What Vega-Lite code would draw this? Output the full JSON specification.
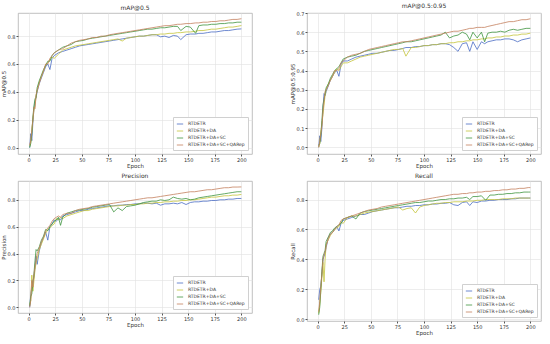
{
  "$schema": "https://vega.github.io/schema/vega-lite/v6.json",
  "padding": {"left": 0, "top": 2, "right": 2, "bottom": 0},
  "background": "white",
  "config": {
    "font": "DejaVu Sans",
    "view": {"stroke": "#b0b0b0", "strokeWidth": 0.8},
    "axis": {"labelFontSize": 5, "titleFontSize": 5.5, "titleFontWeight": "normal", "gridColor": "#e0e0e0", "gridWidth": 0.6, "domain": false, "tickColor": "#555", "tickSize": 2, "labelPadding": 1, "titlePadding": 1, "labelColor": "#333", "titleColor": "#333"},
    "title": {"fontSize": 6, "fontWeight": "normal", "offset": 2, "color": "#333"},
    "legend": {"orient": "bottom-right", "offset": 4, "title": null, "labelFontSize": 4.5, "symbolType": "stroke", "symbolSize": 40, "symbolStrokeWidth": 1, "strokeColor": "#d0d0d0", "fillColor": "white", "padding": 3, "rowPadding": 1, "labelColor": "#333"},
    "line": {"strokeWidth": 0.8}
  },
  "datasets": {
    "m50": [
      {"e":1,"a":0.00,"b":0.01,"c":0.00,"d":0.02},
      {"e":2,"a":0.10,"b":0.04,"c":0.03,"d":0.05},
      {"e":3,"a":0.05,"b":0.12,"c":0.10,"d":0.13},
      {"e":4,"a":0.18,"b":0.20,"c":0.22,"d":0.20},
      {"e":5,"a":0.28,"b":0.27,"c":0.30,"d":0.29},
      {"e":6,"a":0.33,"b":0.30,"c":0.35,"d":0.28},
      {"e":7,"a":0.36,"b":0.37,"c":0.36,"d":0.38},
      {"e":8,"a":0.40,"b":0.41,"c":0.43,"d":0.41},
      {"e":10,"a":0.46,"b":0.47,"c":0.48,"d":0.46},
      {"e":12,"a":0.50,"b":0.51,"c":0.52,"d":0.51},
      {"e":14,"a":0.54,"b":0.55,"c":0.56,"d":0.55},
      {"e":16,"a":0.58,"b":0.59,"c":0.59,"d":0.60},
      {"e":18,"a":0.60,"b":0.61,"c":0.62,"d":0.60},
      {"e":20,"a":0.56,"b":0.63,"c":0.62,"d":0.64},
      {"e":22,"a":0.64,"b":0.65,"c":0.66,"d":0.66},
      {"e":24,"a":0.66,"b":0.64,"c":0.68,"d":0.68},
      {"e":28,"a":0.68,"b":0.67,"c":0.70,"d":0.70},
      {"e":32,"a":0.69,"b":0.70,"c":0.72,"d":0.71},
      {"e":36,"a":0.70,"b":0.71,"c":0.73,"d":0.73},
      {"e":40,"a":0.71,"b":0.72,"c":0.74,"d":0.75},
      {"e":44,"a":0.72,"b":0.73,"c":0.76,"d":0.76},
      {"e":48,"a":0.73,"b":0.735,"c":0.765,"d":0.77},
      {"e":52,"a":0.735,"b":0.74,"c":0.77,"d":0.775},
      {"e":56,"a":0.74,"b":0.745,"c":0.78,"d":0.78},
      {"e":60,"a":0.745,"b":0.75,"c":0.785,"d":0.79},
      {"e":64,"a":0.75,"b":0.755,"c":0.79,"d":0.79},
      {"e":68,"a":0.755,"b":0.76,"c":0.795,"d":0.80},
      {"e":72,"a":0.76,"b":0.765,"c":0.80,"d":0.80},
      {"e":76,"a":0.765,"b":0.77,"c":0.805,"d":0.81},
      {"e":80,"a":0.77,"b":0.775,"c":0.81,"d":0.815},
      {"e":84,"a":0.775,"b":0.78,"c":0.815,"d":0.82},
      {"e":88,"a":0.78,"b":0.765,"c":0.82,"d":0.825},
      {"e":92,"a":0.785,"b":0.785,"c":0.825,"d":0.83},
      {"e":96,"a":0.79,"b":0.79,"c":0.83,"d":0.835},
      {"e":100,"a":0.795,"b":0.795,"c":0.835,"d":0.84},
      {"e":104,"a":0.80,"b":0.80,"c":0.84,"d":0.845},
      {"e":108,"a":0.80,"b":0.80,"c":0.845,"d":0.85},
      {"e":112,"a":0.805,"b":0.805,"c":0.85,"d":0.855},
      {"e":116,"a":0.81,"b":0.81,"c":0.85,"d":0.86},
      {"e":120,"a":0.81,"b":0.81,"c":0.855,"d":0.865},
      {"e":124,"a":0.795,"b":0.815,"c":0.86,"d":0.87},
      {"e":128,"a":0.80,"b":0.815,"c":0.86,"d":0.875},
      {"e":132,"a":0.79,"b":0.82,"c":0.865,"d":0.875},
      {"e":136,"a":0.805,"b":0.82,"c":0.87,"d":0.88},
      {"e":140,"a":0.80,"b":0.825,"c":0.87,"d":0.885},
      {"e":143,"a":0.775,"b":0.825,"c":0.84,"d":0.885},
      {"e":148,"a":0.81,"b":0.83,"c":0.87,"d":0.89},
      {"e":152,"a":0.815,"b":0.83,"c":0.865,"d":0.89},
      {"e":157,"a":0.815,"b":0.835,"c":0.82,"d":0.895},
      {"e":160,"a":0.82,"b":0.84,"c":0.875,"d":0.895},
      {"e":164,"a":0.82,"b":0.84,"c":0.88,"d":0.90},
      {"e":168,"a":0.825,"b":0.845,"c":0.88,"d":0.90},
      {"e":172,"a":0.83,"b":0.85,"c":0.885,"d":0.905},
      {"e":176,"a":0.83,"b":0.85,"c":0.885,"d":0.905},
      {"e":180,"a":0.835,"b":0.855,"c":0.89,"d":0.91},
      {"e":184,"a":0.84,"b":0.86,"c":0.89,"d":0.91},
      {"e":188,"a":0.84,"b":0.865,"c":0.895,"d":0.915},
      {"e":192,"a":0.845,"b":0.865,"c":0.895,"d":0.92},
      {"e":196,"a":0.85,"b":0.87,"c":0.90,"d":0.92},
      {"e":200,"a":0.852,"b":0.876,"c":0.90,"d":0.925}
    ],
    "m95": [
      {"e":1,"a":0.00,"b":0.00,"c":0.01,"d":0.00},
      {"e":2,"a":0.06,"b":0.02,"c":0.02,"d":0.03},
      {"e":3,"a":0.03,"b":0.08,"c":0.06,"d":0.07},
      {"e":4,"a":0.10,"b":0.12,"c":0.14,"d":0.11},
      {"e":5,"a":0.20,"b":0.17,"c":0.22,"d":0.19},
      {"e":6,"a":0.28,"b":0.22,"c":0.25,"d":0.24},
      {"e":7,"a":0.27,"b":0.27,"c":0.28,"d":0.29},
      {"e":8,"a":0.29,"b":0.30,"c":0.31,"d":0.30},
      {"e":10,"a":0.32,"b":0.33,"c":0.33,"d":0.32},
      {"e":12,"a":0.35,"b":0.35,"c":0.36,"d":0.35},
      {"e":14,"a":0.37,"b":0.37,"c":0.38,"d":0.37},
      {"e":16,"a":0.39,"b":0.39,"c":0.40,"d":0.40},
      {"e":18,"a":0.40,"b":0.41,"c":0.41,"d":0.40},
      {"e":20,"a":0.37,"b":0.40,"c":0.42,"d":0.41},
      {"e":22,"a":0.43,"b":0.42,"c":0.44,"d":0.44},
      {"e":24,"a":0.45,"b":0.44,"c":0.46,"d":0.45},
      {"e":28,"a":0.45,"b":0.44,"c":0.47,"d":0.47},
      {"e":32,"a":0.46,"b":0.45,"c":0.475,"d":0.48},
      {"e":36,"a":0.47,"b":0.46,"c":0.48,"d":0.485},
      {"e":40,"a":0.475,"b":0.47,"c":0.49,"d":0.49},
      {"e":44,"a":0.48,"b":0.475,"c":0.50,"d":0.50},
      {"e":48,"a":0.485,"b":0.48,"c":0.505,"d":0.51},
      {"e":52,"a":0.49,"b":0.485,"c":0.51,"d":0.515},
      {"e":56,"a":0.49,"b":0.49,"c":0.515,"d":0.52},
      {"e":60,"a":0.495,"b":0.495,"c":0.52,"d":0.525},
      {"e":64,"a":0.50,"b":0.50,"c":0.525,"d":0.53},
      {"e":68,"a":0.505,"b":0.505,"c":0.53,"d":0.535},
      {"e":72,"a":0.505,"b":0.51,"c":0.535,"d":0.54},
      {"e":76,"a":0.51,"b":0.51,"c":0.54,"d":0.545},
      {"e":80,"a":0.515,"b":0.515,"c":0.545,"d":0.55},
      {"e":83,"a":0.52,"b":0.475,"c":0.55,"d":0.55},
      {"e":88,"a":0.52,"b":0.52,"c":0.55,"d":0.555},
      {"e":92,"a":0.525,"b":0.52,"c":0.555,"d":0.56},
      {"e":96,"a":0.525,"b":0.525,"c":0.56,"d":0.565},
      {"e":100,"a":0.53,"b":0.53,"c":0.565,"d":0.57},
      {"e":104,"a":0.53,"b":0.53,"c":0.57,"d":0.575},
      {"e":108,"a":0.535,"b":0.535,"c":0.575,"d":0.58},
      {"e":112,"a":0.535,"b":0.535,"c":0.58,"d":0.585},
      {"e":116,"a":0.54,"b":0.54,"c":0.585,"d":0.59},
      {"e":120,"a":0.54,"b":0.54,"c":0.60,"d":0.595},
      {"e":124,"a":0.535,"b":0.545,"c":0.57,"d":0.60},
      {"e":128,"a":0.52,"b":0.545,"c":0.58,"d":0.605},
      {"e":132,"a":0.50,"b":0.55,"c":0.585,"d":0.605},
      {"e":136,"a":0.54,"b":0.55,"c":0.60,"d":0.61},
      {"e":140,"a":0.545,"b":0.555,"c":0.59,"d":0.615},
      {"e":143,"a":0.50,"b":0.555,"c":0.56,"d":0.62},
      {"e":146,"a":0.55,"b":0.56,"c":0.60,"d":0.62},
      {"e":150,"a":0.51,"b":0.56,"c":0.57,"d":0.625},
      {"e":154,"a":0.55,"b":0.565,"c":0.60,"d":0.625},
      {"e":157,"a":0.54,"b":0.565,"c":0.55,"d":0.625},
      {"e":160,"a":0.55,"b":0.57,"c":0.595,"d":0.63},
      {"e":164,"a":0.555,"b":0.57,"c":0.60,"d":0.635},
      {"e":168,"a":0.56,"b":0.575,"c":0.60,"d":0.64},
      {"e":172,"a":0.56,"b":0.575,"c":0.605,"d":0.645},
      {"e":176,"a":0.565,"b":0.58,"c":0.60,"d":0.65},
      {"e":180,"a":0.565,"b":0.58,"c":0.61,"d":0.655},
      {"e":184,"a":0.56,"b":0.585,"c":0.615,"d":0.655},
      {"e":188,"a":0.55,"b":0.585,"c":0.61,"d":0.66},
      {"e":192,"a":0.56,"b":0.59,"c":0.615,"d":0.665},
      {"e":196,"a":0.565,"b":0.59,"c":0.62,"d":0.665},
      {"e":200,"a":0.57,"b":0.595,"c":0.62,"d":0.67}
    ],
    "pr": [
      {"e":1,"a":0.00,"b":0.02,"c":0.01,"d":0.00},
      {"e":2,"a":0.10,"b":0.05,"c":0.08,"d":0.05},
      {"e":3,"a":0.15,"b":0.24,"c":0.10,"d":0.20},
      {"e":4,"a":0.20,"b":0.12,"c":0.18,"d":0.15},
      {"e":5,"a":0.22,"b":0.20,"c":0.25,"d":0.25},
      {"e":6,"a":0.30,"b":0.28,"c":0.35,"d":0.30},
      {"e":7,"a":0.38,"b":0.33,"c":0.43,"d":0.36},
      {"e":8,"a":0.32,"b":0.36,"c":0.42,"d":0.40},
      {"e":10,"a":0.42,"b":0.43,"c":0.45,"d":0.44},
      {"e":12,"a":0.48,"b":0.47,"c":0.50,"d":0.49},
      {"e":14,"a":0.52,"b":0.51,"c":0.53,"d":0.52},
      {"e":16,"a":0.56,"b":0.55,"c":0.58,"d":0.57},
      {"e":18,"a":0.50,"b":0.58,"c":0.57,"d":0.59},
      {"e":20,"a":0.60,"b":0.59,"c":0.60,"d":0.61},
      {"e":22,"a":0.62,"b":0.61,"c":0.62,"d":0.64},
      {"e":24,"a":0.65,"b":0.62,"c":0.64,"d":0.66},
      {"e":26,"a":0.64,"b":0.66,"c":0.65,"d":0.67},
      {"e":28,"a":0.66,"b":0.65,"c":0.67,"d":0.68},
      {"e":30,"a":0.65,"b":0.67,"c":0.61,"d":0.67},
      {"e":32,"a":0.68,"b":0.66,"c":0.67,"d":0.69},
      {"e":36,"a":0.69,"b":0.68,"c":0.70,"d":0.70},
      {"e":40,"a":0.70,"b":0.69,"c":0.71,"d":0.70},
      {"e":44,"a":0.71,"b":0.70,"c":0.72,"d":0.72},
      {"e":48,"a":0.72,"b":0.71,"c":0.725,"d":0.73},
      {"e":52,"a":0.72,"b":0.72,"c":0.73,"d":0.735},
      {"e":56,"a":0.73,"b":0.72,"c":0.735,"d":0.74},
      {"e":60,"a":0.735,"b":0.73,"c":0.745,"d":0.75},
      {"e":64,"a":0.74,"b":0.735,"c":0.75,"d":0.755},
      {"e":68,"a":0.745,"b":0.74,"c":0.755,"d":0.76},
      {"e":72,"a":0.75,"b":0.745,"c":0.76,"d":0.765},
      {"e":76,"a":0.755,"b":0.75,"c":0.765,"d":0.77},
      {"e":80,"a":0.755,"b":0.755,"c":0.71,"d":0.775},
      {"e":84,"a":0.76,"b":0.755,"c":0.74,"d":0.78},
      {"e":88,"a":0.76,"b":0.76,"c":0.72,"d":0.785},
      {"e":92,"a":0.765,"b":0.76,"c":0.75,"d":0.79},
      {"e":96,"a":0.765,"b":0.765,"c":0.755,"d":0.795},
      {"e":100,"a":0.77,"b":0.765,"c":0.76,"d":0.80},
      {"e":104,"a":0.77,"b":0.77,"c":0.77,"d":0.805},
      {"e":108,"a":0.775,"b":0.77,"c":0.78,"d":0.81},
      {"e":112,"a":0.775,"b":0.775,"c":0.785,"d":0.815},
      {"e":116,"a":0.77,"b":0.775,"c":0.79,"d":0.815},
      {"e":120,"a":0.775,"b":0.78,"c":0.79,"d":0.82},
      {"e":124,"a":0.76,"b":0.78,"c":0.80,"d":0.825},
      {"e":128,"a":0.77,"b":0.785,"c":0.795,"d":0.83},
      {"e":132,"a":0.77,"b":0.785,"c":0.80,"d":0.835},
      {"e":136,"a":0.775,"b":0.79,"c":0.82,"d":0.84},
      {"e":140,"a":0.77,"b":0.79,"c":0.81,"d":0.845},
      {"e":144,"a":0.78,"b":0.795,"c":0.805,"d":0.85},
      {"e":148,"a":0.765,"b":0.795,"c":0.81,"d":0.855},
      {"e":152,"a":0.78,"b":0.80,"c":0.80,"d":0.86},
      {"e":156,"a":0.785,"b":0.80,"c":0.805,"d":0.86},
      {"e":160,"a":0.785,"b":0.805,"c":0.815,"d":0.865},
      {"e":164,"a":0.79,"b":0.81,"c":0.82,"d":0.87},
      {"e":168,"a":0.79,"b":0.815,"c":0.825,"d":0.875},
      {"e":172,"a":0.795,"b":0.82,"c":0.83,"d":0.875},
      {"e":176,"a":0.795,"b":0.82,"c":0.835,"d":0.88},
      {"e":180,"a":0.80,"b":0.825,"c":0.84,"d":0.885},
      {"e":184,"a":0.80,"b":0.83,"c":0.845,"d":0.89},
      {"e":188,"a":0.805,"b":0.83,"c":0.85,"d":0.89},
      {"e":192,"a":0.805,"b":0.835,"c":0.855,"d":0.895},
      {"e":196,"a":0.81,"b":0.835,"c":0.86,"d":0.895},
      {"e":200,"a":0.81,"b":0.84,"c":0.86,"d":0.896}
    ],
    "rc": [
      {"e":1,"a":0.13,"b":0.04,"c":0.03,"d":0.05},
      {"e":2,"a":0.20,"b":0.10,"c":0.08,"d":0.12},
      {"e":3,"a":0.22,"b":0.18,"c":0.20,"d":0.22},
      {"e":4,"a":0.30,"b":0.28,"c":0.32,"d":0.30},
      {"e":5,"a":0.40,"b":0.38,"c":0.42,"d":0.40},
      {"e":6,"a":0.42,"b":0.25,"c":0.44,"d":0.43},
      {"e":7,"a":0.44,"b":0.40,"c":0.46,"d":0.45},
      {"e":8,"a":0.48,"b":0.50,"c":0.52,"d":0.49},
      {"e":10,"a":0.54,"b":0.53,"c":0.55,"d":0.54},
      {"e":12,"a":0.57,"b":0.56,"c":0.58,"d":0.57},
      {"e":14,"a":0.58,"b":0.58,"c":0.59,"d":0.58},
      {"e":16,"a":0.60,"b":0.60,"c":0.61,"d":0.60},
      {"e":18,"a":0.62,"b":0.61,"c":0.62,"d":0.62},
      {"e":20,"a":0.59,"b":0.62,"c":0.63,"d":0.63},
      {"e":22,"a":0.64,"b":0.65,"c":0.64,"d":0.66},
      {"e":24,"a":0.66,"b":0.64,"c":0.67,"d":0.67},
      {"e":28,"a":0.67,"b":0.68,"c":0.68,"d":0.68},
      {"e":32,"a":0.68,"b":0.69,"c":0.69,"d":0.69},
      {"e":36,"a":0.69,"b":0.69,"c":0.67,"d":0.70},
      {"e":40,"a":0.70,"b":0.70,"c":0.71,"d":0.71},
      {"e":44,"a":0.70,"b":0.71,"c":0.72,"d":0.72},
      {"e":48,"a":0.71,"b":0.715,"c":0.725,"d":0.73},
      {"e":52,"a":0.72,"b":0.72,"c":0.73,"d":0.735},
      {"e":56,"a":0.725,"b":0.725,"c":0.735,"d":0.74},
      {"e":60,"a":0.73,"b":0.73,"c":0.74,"d":0.75},
      {"e":64,"a":0.735,"b":0.735,"c":0.745,"d":0.755},
      {"e":68,"a":0.74,"b":0.74,"c":0.75,"d":0.76},
      {"e":72,"a":0.745,"b":0.745,"c":0.755,"d":0.765},
      {"e":76,"a":0.745,"b":0.75,"c":0.76,"d":0.77},
      {"e":80,"a":0.75,"b":0.73,"c":0.765,"d":0.775},
      {"e":84,"a":0.755,"b":0.74,"c":0.77,"d":0.78},
      {"e":88,"a":0.755,"b":0.745,"c":0.775,"d":0.785},
      {"e":92,"a":0.76,"b":0.71,"c":0.78,"d":0.79},
      {"e":96,"a":0.76,"b":0.75,"c":0.78,"d":0.795},
      {"e":100,"a":0.765,"b":0.76,"c":0.785,"d":0.80},
      {"e":104,"a":0.765,"b":0.765,"c":0.79,"d":0.805},
      {"e":108,"a":0.77,"b":0.77,"c":0.79,"d":0.81},
      {"e":112,"a":0.77,"b":0.775,"c":0.795,"d":0.815},
      {"e":116,"a":0.775,"b":0.775,"c":0.80,"d":0.82},
      {"e":120,"a":0.775,"b":0.78,"c":0.80,"d":0.825},
      {"e":124,"a":0.78,"b":0.78,"c":0.805,"d":0.83},
      {"e":128,"a":0.765,"b":0.785,"c":0.805,"d":0.835},
      {"e":132,"a":0.76,"b":0.785,"c":0.81,"d":0.835},
      {"e":136,"a":0.78,"b":0.785,"c":0.81,"d":0.84},
      {"e":140,"a":0.785,"b":0.79,"c":0.815,"d":0.84},
      {"e":143,"a":0.76,"b":0.79,"c":0.80,"d":0.845},
      {"e":146,"a":0.785,"b":0.79,"c":0.82,"d":0.845},
      {"e":150,"a":0.78,"b":0.795,"c":0.82,"d":0.85},
      {"e":154,"a":0.79,"b":0.795,"c":0.825,"d":0.85},
      {"e":158,"a":0.79,"b":0.80,"c":0.795,"d":0.855},
      {"e":162,"a":0.795,"b":0.80,"c":0.83,"d":0.855},
      {"e":166,"a":0.795,"b":0.80,"c":0.83,"d":0.86},
      {"e":170,"a":0.80,"b":0.80,"c":0.835,"d":0.86},
      {"e":174,"a":0.80,"b":0.805,"c":0.835,"d":0.865},
      {"e":178,"a":0.80,"b":0.805,"c":0.84,"d":0.865},
      {"e":182,"a":0.805,"b":0.805,"c":0.84,"d":0.87},
      {"e":186,"a":0.805,"b":0.81,"c":0.845,"d":0.87},
      {"e":190,"a":0.81,"b":0.81,"c":0.845,"d":0.875},
      {"e":194,"a":0.81,"b":0.81,"c":0.85,"d":0.875},
      {"e":198,"a":0.81,"b":0.81,"c":0.85,"d":0.88},
      {"e":200,"a":0.81,"b":0.81,"c":0.85,"d":0.88}
    ]
  },
  "columns": 2,
  "spacing": {"row": 3, "column": 36},
  "resolve": {"scale": {"color": "independent", "y": "independent", "x": "independent"}, "legend": {"color": "independent"}},
  "concat": [
    {
      "title": "mAP@0.5",
      "width": 234, "height": 141,
      "data": {"name": "m50"},
      "transform": [{"fold": ["a", "b", "c", "d"], "as": ["s", "v"]}],
      "mark": {"type": "line"},
      "encoding": {
        "x": {"field": "e", "type": "quantitative", "scale": {"domain": [-10, 210], "nice": false}, "axis": {"title": "Epoch", "values": [0,25,50,75,100,125,150,175,200]}},
        "y": {"field": "v", "type": "quantitative", "scale": {"domain": [-0.046, 0.966], "nice": false, "zero": false}, "axis": {"title": "mAP@0.5", "values": [0,0.2,0.4,0.6,0.8], "format": ".1f"}},
        "color": {"field": "s", "type": "nominal", "scale": {"domain": ["a","b","c","d"], "range": ["#4a6cc4", "#c4c43a", "#3f943f", "#c4805e"]}, "legend": {"labelExpr": "datum.label == 'a' ? 'RTDETR' : datum.label == 'b' ? 'RTDETR+DA' : datum.label == 'c' ? 'RTDETR+DA+SC' : 'RTDETR+DA+SC+QARep'"}}
      }
    },
    {
      "title": "mAP@0.5:0.95",
      "width": 234, "height": 141,
      "data": {"name": "m95"},
      "transform": [{"fold": ["a", "b", "c", "d"], "as": ["s", "v"]}],
      "mark": {"type": "line"},
      "encoding": {
        "x": {"field": "e", "type": "quantitative", "scale": {"domain": [-10, 210], "nice": false}, "axis": {"title": "Epoch", "values": [0,25,50,75,100,125,150,175,200]}},
        "y": {"field": "v", "type": "quantitative", "scale": {"domain": [-0.035, 0.70], "nice": false, "zero": false}, "axis": {"title": "mAP@0.5:0.95", "values": [0,0.1,0.2,0.3,0.4,0.5,0.6,0.7], "format": ".1f"}},
        "color": {"field": "s", "type": "nominal", "scale": {"domain": ["a","b","c","d"], "range": ["#4a6cc4", "#c4c43a", "#3f943f", "#c4805e"]}, "legend": {"labelExpr": "datum.label == 'a' ? 'RTDETR' : datum.label == 'b' ? 'RTDETR+DA' : datum.label == 'c' ? 'RTDETR+DA+SC' : 'RTDETR+DA+SC+QARep'"}}
      }
    },
    {
      "title": "Precision",
      "width": 234, "height": 132,
      "data": {"name": "pr"},
      "transform": [{"fold": ["a", "b", "c", "d"], "as": ["s", "v"]}],
      "mark": {"type": "line"},
      "encoding": {
        "x": {"field": "e", "type": "quantitative", "scale": {"domain": [-10, 210], "nice": false}, "axis": {"title": "Epoch", "values": [0,25,50,75,100,125,150,175,200]}},
        "y": {"field": "v", "type": "quantitative", "scale": {"domain": [-0.042, 0.94], "nice": false, "zero": false}, "axis": {"title": "Precision", "values": [0,0.2,0.4,0.6,0.8], "format": ".1f"}},
        "color": {"field": "s", "type": "nominal", "scale": {"domain": ["a","b","c","d"], "range": ["#4a6cc4", "#c4c43a", "#3f943f", "#c4805e"]}, "legend": {"labelExpr": "datum.label == 'a' ? 'RTDETR' : datum.label == 'b' ? 'RTDETR+DA' : datum.label == 'c' ? 'RTDETR+DA+SC' : 'RTDETR+DA+SC+QARep'"}}
      }
    },
    {
      "title": "Recall",
      "width": 234, "height": 140,
      "data": {"name": "rc"},
      "transform": [{"fold": ["a", "b", "c", "d"], "as": ["s", "v"]}],
      "mark": {"type": "line"},
      "encoding": {
        "x": {"field": "e", "type": "quantitative", "scale": {"domain": [-10, 210], "nice": false}, "axis": {"title": "Epoch", "values": [0,25,50,75,100,125,150,175,200]}},
        "y": {"field": "v", "type": "quantitative", "scale": {"domain": [-0.012, 0.924], "nice": false, "zero": false}, "axis": {"title": "Recall", "values": [0,0.2,0.4,0.6,0.8], "format": ".1f"}},
        "color": {"field": "s", "type": "nominal", "scale": {"domain": ["a","b","c","d"], "range": ["#4a6cc4", "#c4c43a", "#3f943f", "#c4805e"]}, "legend": {"labelExpr": "datum.label == 'a' ? 'RTDETR' : datum.label == 'b' ? 'RTDETR+DA' : datum.label == 'c' ? 'RTDETR+DA+SC' : 'RTDETR+DA+SC+QARep'"}}
      }
    }
  ]
}
